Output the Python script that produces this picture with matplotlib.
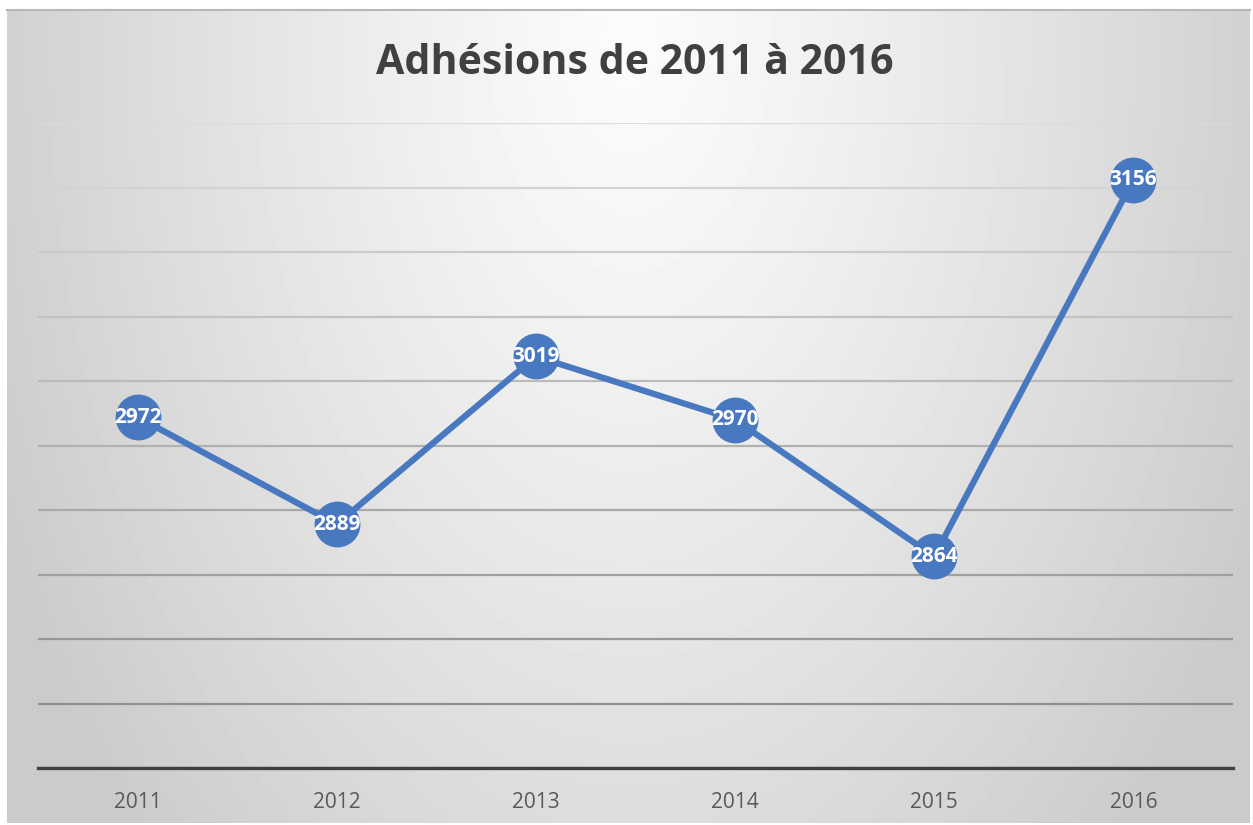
import numpy as np
import matplotlib
matplotlib.use("Agg")
import matplotlib.pyplot as plt

years = ["2011", "2012", "2013", "2014", "2015", "2016"]
adhesions = [2972, 2889, 3019, 2970, 2864, 3156]
title = "Adhésions de 2011 à 2016"

W, H, DPI = 1253, 825, 100
fig = plt.figure(figsize=(W / DPI, H / DPI), dpi=DPI)
fig.patch.set_facecolor("white")

# chart-area background with radial gradient
cx0, cy0, cx1, cy1 = 7, 10, 1250, 823
bg = fig.add_axes([cx0 / W, 1 - cy1 / H, (cx1 - cx0) / W, (cy1 - cy0) / H], zorder=0)
xx, yy = np.meshgrid(np.linspace(cx0, cx1, 300), np.linspace(cy0, cy1, 200))
r = np.sqrt(((xx - 630) / 700) ** 2 + ((yy - 40) / 1150) ** 2)
val = 0.985 - 0.19 * np.clip(r, 0, 1) ** 1.2
bg.imshow(val, cmap="gray", vmin=0, vmax=1, aspect="auto", interpolation="bilinear",
          extent=[0, 1, 0, 1], origin="upper")
bg.set_axis_off()
fig.add_artist(plt.Line2D([cx0 / W, cx1 / W], [1 - cy0 / H, 1 - cy0 / H],
                          transform=fig.transFigure, color="#b8b8b8", lw=1.5, zorder=1))

left, right, top, bottom = 38, 1233, 123, 768
ax = fig.add_axes([left / W, 1 - bottom / H, (right - left) / W, (bottom - top) / H], zorder=2)
ax.patch.set_alpha(0)

x = np.arange(len(years))
ax.set_xlim(-0.5, len(years) - 0.5)
ax.set_ylim(2700, 3200)
ax.set_yticks(np.arange(2700, 3201, 50))
ax.set_yticklabels([])
ax.tick_params(axis="y", length=0)
ax.set_xticks(x)
ax.set_xticklabels(years, fontsize=15, color="#595959", fontfamily="Open Sans")
ax.tick_params(axis="x", length=0, pad=17)

ax.grid(axis="y", linewidth=1.6)
glines = ax.get_ygridlines()
n = len(glines)
for i, gl in enumerate(glines):
    t = i / (n - 1)
    c = 0.53 + (0.86 - 0.53) * t
    gl.set_color((c, c, c))
ax.set_axisbelow(True)
for s in ["left", "right", "top"]:
    ax.spines[s].set_visible(False)
ax.spines["bottom"].set_color("#404040")
ax.spines["bottom"].set_linewidth(2.4)

color = "#4878bf"
ax.plot(x, adhesions, color=color, lw=4.5, marker="o", markersize=32,
        markerfacecolor=color, markeredgecolor=color, zorder=3, clip_on=False)
for xi, v in zip(x, adhesions):
    ax.text(xi, v, str(v), ha="center", va="center", color="white", fontsize=15,
            fontweight="bold", fontfamily="Open Sans", zorder=4)

fig.text(0.5065, 1 - 64 / H, title, ha="center", va="center", fontsize=29.6,
         fontweight="bold", color="#404040", fontfamily="Open Sans", zorder=5)

fig.savefig("out.png", dpi=DPI)
